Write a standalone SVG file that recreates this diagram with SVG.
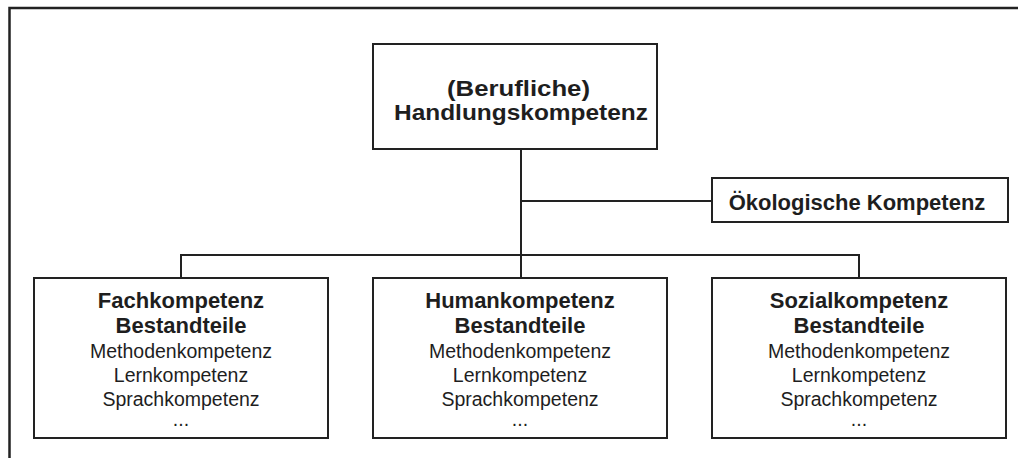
<svg xmlns="http://www.w3.org/2000/svg" width="1018" height="458" viewBox="0 0 1018 458">
<style>
.box{fill:#fff;stroke:#222;stroke-width:2}
.ln{fill:none;stroke:#222;stroke-width:2}
.frame{fill:none;stroke:#222;stroke-width:2.5}
text{font-family:"Liberation Sans",Arial,sans-serif;fill:#1e1e1e;text-anchor:middle}
.t{font-size:21.5px;font-weight:bold}
.h{font-size:22px;font-weight:bold}
.r{font-size:19.5px}
</style>
<rect width="1018" height="458" fill="#fff"/>
<path class="frame" d="M9.5 458 V8 H1018"/>
<g id="connectors">
<path class="ln" d="M521 149 V278"/>
<path class="ln" d="M521 201 H712"/>
<path class="ln" d="M181 278 V255 H859 V278"/>
</g>
<g id="top">
<rect class="box" x="373" y="44" width="284" height="105"/>
<text class="t" x="518.5" y="96" textLength="143" lengthAdjust="spacingAndGlyphs">(Berufliche)</text>
<text class="t" x="521" y="120" textLength="254" lengthAdjust="spacingAndGlyphs">Handlungskompetenz</text>
</g>
<g id="oeko">
<rect class="box" x="712" y="178" width="296" height="44"/>
<text class="h" x="857" y="210">Ökologische Kompetenz</text>
</g>
<g id="fach">
<rect class="box" x="34" y="278" width="294" height="160"/>
<text class="h" x="181" y="308">Fachkompetenz</text>
<text class="h" x="181" y="333">Bestandteile</text>
<text class="r" x="181" y="358">Methodenkompetenz</text>
<text class="r" x="181" y="382">Lernkompetenz</text>
<text class="r" x="181" y="406">Sprachkompetenz</text>
<text class="r" x="181" y="426">...</text>
</g>
<g id="human">
<rect class="box" x="373" y="278" width="294" height="160"/>
<text class="h" x="520" y="308">Humankompetenz</text>
<text class="h" x="520" y="333">Bestandteile</text>
<text class="r" x="520" y="358">Methodenkompetenz</text>
<text class="r" x="520" y="382">Lernkompetenz</text>
<text class="r" x="520" y="406">Sprachkompetenz</text>
<text class="r" x="520" y="426">...</text>
</g>
<g id="sozial">
<rect class="box" x="712" y="278" width="294" height="160"/>
<text class="h" x="859" y="308">Sozialkompetenz</text>
<text class="h" x="859" y="333">Bestandteile</text>
<text class="r" x="859" y="358">Methodenkompetenz</text>
<text class="r" x="859" y="382">Lernkompetenz</text>
<text class="r" x="859" y="406">Sprachkompetenz</text>
<text class="r" x="859" y="426">...</text>
</g>
</svg>
